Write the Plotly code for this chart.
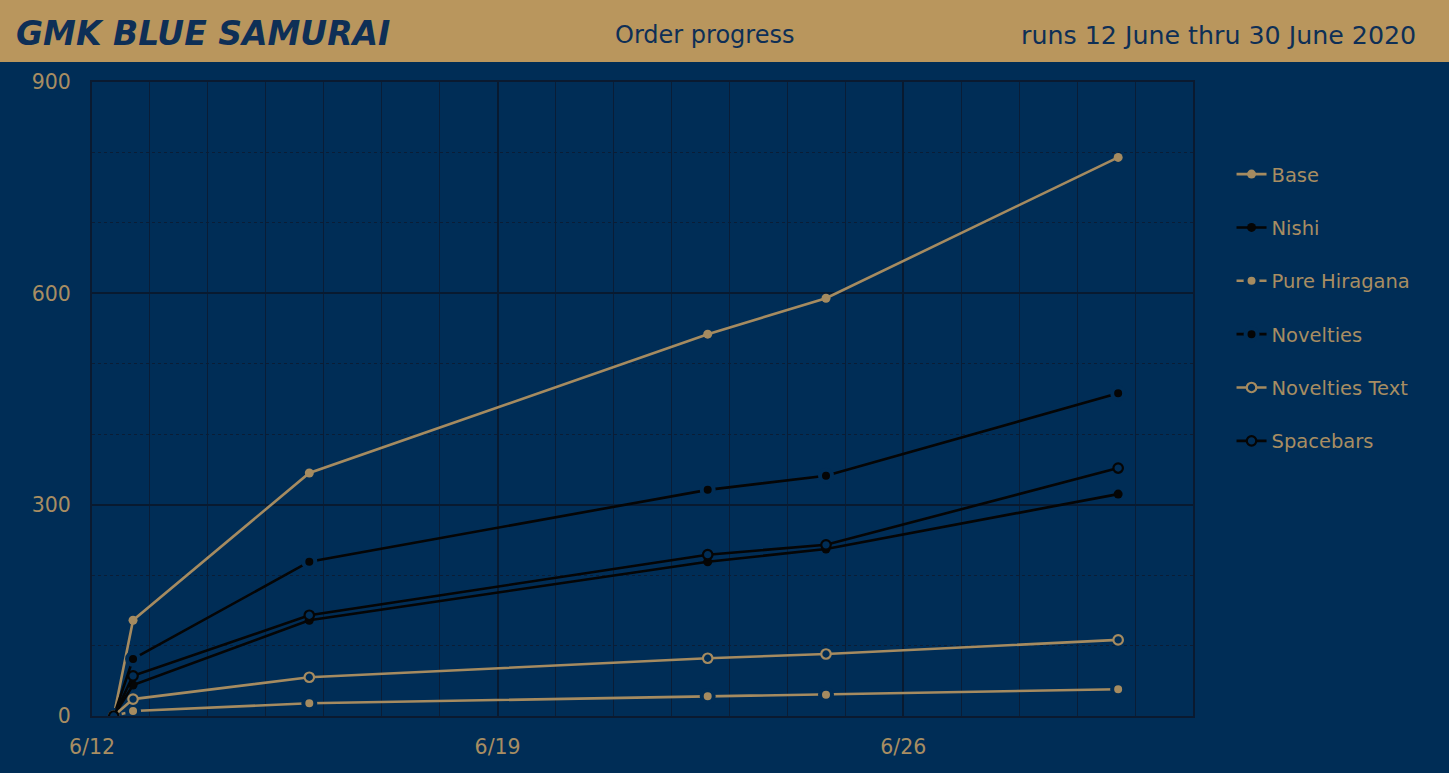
import plotly.graph_objects as go

dates = ["2020-06-12 09:00", "2020-06-12 17:00", "2020-06-15 18:00",
         "2020-06-22 15:00", "2020-06-24 16:00", "2020-06-29 17:00"]
series_names = ["Base", "Nishi", "Pure Hiragana", "Novelties", "Novelties Text", "Spacebars"]
base = [0, 136, 345, 542, 593, 793]
nishi = [0, 44, 136, 219, 237, 315]
pure_hiragana = [0, 7, 18, 28, 30, 38]
novelties = [0, 81, 219, 321, 341, 458]
novelties_text = [0, 24, 55, 82, 88, 108]
spacebars = [0, 57, 143, 229, 243, 352]
x_tick_vals = ["2020-06-12", "2020-06-19", "2020-06-26"]
x_tick_text = ["6/12", "6/19", "6/26"]
y_tick_vals = [0, 300, 600, 900]

NAVY = "#002D56"
TAN = "#A58B60"
BAND = "#B9965D"
BLACK = "#050505"
TEXTNAVY = "#0E2F56"
TXT = "#A88D62"
FONT = "DejaVu Sans"

styles = {
    "Base": dict(color=TAN, size=9, fill=TAN, lw=0, lc=TAN),
    "Nishi": dict(color=BLACK, size=9, fill=BLACK, lw=0, lc=BLACK),
    "Pure Hiragana": dict(color=TAN, size=12, fill=TAN, lw=4, lc=NAVY),
    "Novelties": dict(color=BLACK, size=12, fill=BLACK, lw=4, lc=NAVY),
    "Novelties Text": dict(color=TAN, size=9.5, fill=NAVY, lw=2.2, lc=TAN),
    "Spacebars": dict(color=BLACK, size=9.5, fill=NAVY, lw=2.2, lc=BLACK),
}
values = [base, nishi, pure_hiragana, novelties, novelties_text, spacebars]

fig = go.Figure()
for name, vals in zip(series_names, values):
    s = styles[name]
    fig.add_trace(go.Scatter(
        x=dates, y=vals, name=name, mode="lines+markers", legendgroup=name,
        line=dict(color=s["color"], width=2.6),
        marker=dict(symbol="circle", size=s["size"], color=s["fill"],
                    line=dict(width=s["lw"], color=s["lc"])),
    ))

fig.update_layout(
    width=1449, height=773,
    paper_bgcolor=NAVY, plot_bgcolor=NAVY,
    margin=dict(l=92, r=256, t=82, b=57),
    font=dict(family=FONT, color=TXT, size=20),
    showlegend=True,
    legend=dict(x=1.035, y=0.885, xanchor="left", yanchor="top",
                font=dict(family=FONT, size=19.5, color=TXT), tracegroupgap=25,
                bgcolor="rgba(0,0,0,0)", itemwidth=30),
    xaxis=dict(type="date", range=["2020-06-12", "2020-07-01"],
               tickvals=x_tick_vals, ticktext=x_tick_text,
               showgrid=True, gridcolor="#081A30", gridwidth=1.5,
               minor=dict(dtick=86400000, tick0="2020-06-12", showgrid=True,
                          gridcolor="#0A1D36", gridwidth=1),
               showline=True, linecolor="#0A1A30", linewidth=2, mirror=True,
               ticks="", zeroline=False, ticklabelstandoff=11,
               tickfont=dict(family=FONT, size=20.5, color=TXT)),
    yaxis=dict(range=[0, 900], tickvals=y_tick_vals,
               showgrid=True, gridcolor="#081A30", gridwidth=1.5,
               minor=dict(dtick=100, showgrid=True, gridcolor="#0A1D36",
                          gridwidth=1, griddash="dot"),
               showline=True, linecolor="#0A1A30", linewidth=2, mirror=True,
               ticks="", zeroline=False, ticklabelstandoff=15,
               tickfont=dict(family=FONT, size=20.5, color=TXT)),
    shapes=[dict(type="rect", xref="paper", yref="paper",
                 x0=-0.2, x1=1.4, y0=(716 - 62) / 634, y1=1.2,
                 fillcolor=BAND, line=dict(width=0), layer="below")],
    annotations=[
        dict(text="<b><i>GMK BLUE SAMURAI</i></b>", xref="paper", yref="paper",
             x=-78 / 1101, y=(716 - 33) / 634, xanchor="left", yanchor="middle",
             showarrow=False, font=dict(family=FONT, size=33, color=TEXTNAVY)),
        dict(text="Order progress", xref="paper", yref="paper",
             x=(704 - 92) / 1101, y=(716 - 35) / 634, xanchor="center", yanchor="middle",
             showarrow=False, font=dict(family=FONT, size=24, color=TEXTNAVY)),
        dict(text="runs 12 June thru 30 June 2020", xref="paper", yref="paper",
             x=(1418 - 92) / 1101, y=(716 - 35) / 634, xanchor="right", yanchor="middle",
             showarrow=False, font=dict(family=FONT, size=25.3, color=TEXTNAVY)),
    ],
)

fig.write_html("out.html")
